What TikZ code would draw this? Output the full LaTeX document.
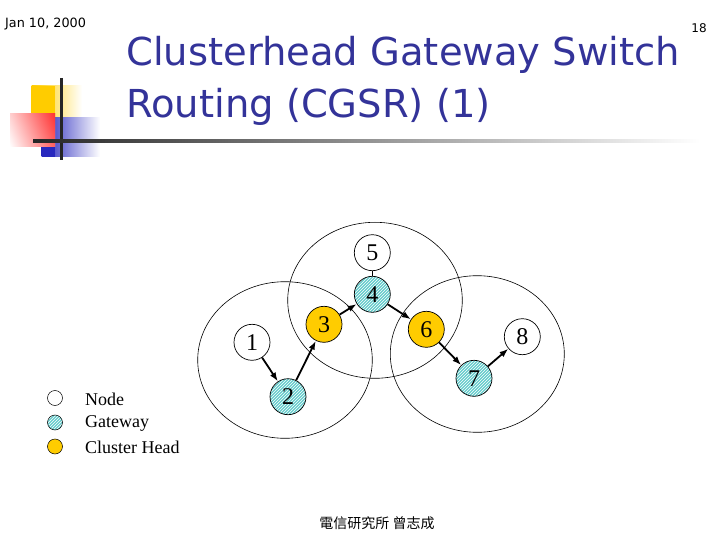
\documentclass[tikz,border=0pt]{standalone}
\usepackage{fontspec}
\setmainfont{Liberation Serif}
\newfontfamily\titlefont{DejaVu Sans}
\newfontfamily\smallfont{DejaVu Sans}
\newfontfamily\cjk{Noto Sans CJK TC}
\usetikzlibrary{patterns,arrows.meta}
\definecolor{titleblue}{RGB}{51,51,153}
\definecolor{gwcol}{RGB}{102,204,204}
\definecolor{chcol}{RGB}{255,204,0}
\definecolor{logoyellow}{RGB}{255,204,0}
\definecolor{logored}{RGB}{255,30,30}
\definecolor{logoblue}{RGB}{40,40,190}
\tikzset{
  nd/.style={circle,draw=black,line width=0.7pt,minimum size=36pt,inner sep=0pt,font=\fontsize{24}{24}\selectfont,fill=white},
  gw/.style={nd,fill=none,preaction={fill=gwcol},pattern=north east lines,pattern color=white},
  ch/.style={nd,fill=chcol},
  lg/.style={circle,draw=black,line width=0.5pt,minimum size=15pt,inner sep=0pt},
  lgt/.style={anchor=west,font=\fontsize{18}{18}\selectfont,inner sep=0pt},
  arr/.style={-{Latex[length=9pt,width=6.5pt]},line width=1.8pt},
  cluster/.style={draw=black,line width=0.6pt}
}
\begin{document}
\begin{tikzpicture}[x=1pt,y=-1pt]
\useasboundingbox (0,0) rectangle (720,540);
% logo
\shade[left color=logoyellow,right color=white] (31.7,86) rectangle (82,118);
\fill[logoyellow] (31.7,86) rectangle (55,118);
\shade[left color=logoblue,right color=white] (41.7,118) rectangle (100,157);
\fill[logoblue] (41.7,118) rectangle (55,157);
\shade[top color=logored!70,bottom color=white] (10,114) rectangle (55,147);
\shade[left color=white,right color=logored,opacity=0.7] (10,114) rectangle (55,147);
\draw[line width=3pt,black!85] (61,78) -- (61,160);
\shade[left color=black!85,right color=white] (33,139.5) rectangle (700,142.5);
% header texts
\node[anchor=west,font=\smallfont\fontsize{12.8}{12.8}\selectfont,inner sep=0pt] (date) at (5,24) {Jan 10, 2000};
\node[font=\smallfont\fontsize{12}{12}\selectfont,inner sep=0pt] (pg) at (699,28) {18};
\node[anchor=west,align=left,font=\titlefont\fontsize{38.5}{52}\selectfont,text=titleblue,inner sep=0pt] (title) at (126,81) {Clusterhead Gateway Switch\\Routing (CGSR) (1)};
% ranges
\draw[cluster] (375,300.3) ellipse (87.3 and 78);
\draw[cluster] (285,360) ellipse (87.3 and 78.3);
\draw[cluster] (477.3,354) ellipse (87 and 78.3);
% nodes
\node[nd] (n5) at (372.3,252.7) {5};
\node[gw] (n4) at (372.3,294.3) {4};
\node[ch] (n3) at (324,324.3) {3};
\node[nd] (n1) at (252,342.3) {1};
\node[gw] (n2) at (288,396.7) {2};
\node[ch] (n6) at (426.3,329.3) {6};
\node[gw] (n7) at (474,378.3) {7};
\node[nd] (n8) at (522.3,336.7) {8};
\draw[line width=0.6pt] (n5) -- (n4);
\draw[arr] (n1) -- (n2);
\draw[arr] (n2) -- (n3);
\draw[arr] (n3) -- (n4);
\draw[arr] (n4) -- (n6);
\draw[arr] (n6) -- (n7);
\draw[arr] (n7) -- (n8);
% legend
\node[lg] (l1) at (55,398) {};
\node[lg,fill=none,preaction={fill=gwcol},pattern=north east lines,pattern color=white] (l2) at (55,422.5) {};
\node[lg,fill=chcol] (l3) at (55,446.5) {};
\node[lgt] (t1) at (85,399) {Node};
\node[lgt] (t2) at (85,423) {Gateway};
\node[lgt] (t3) at (85,447) {Cluster Head};
% footer
\node[font=\cjk\fontsize{14}{14}\selectfont,inner sep=0pt] (foot) at (377,523) {電信研究所 曾志成};
\end{tikzpicture}
\end{document}
